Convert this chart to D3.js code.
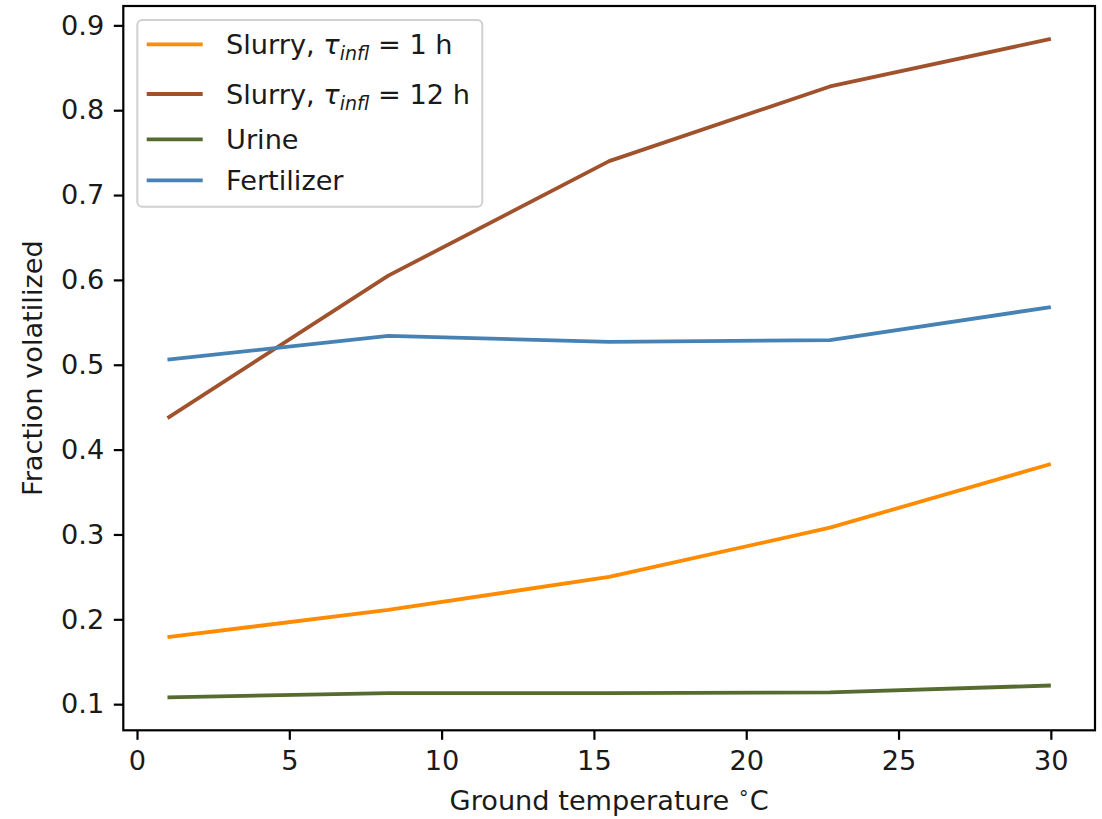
<!DOCTYPE html>
<html><head><meta charset="utf-8">
<script src="https://cdn.jsdelivr.net/npm/d3@7"></script>
<style>
html,body{margin:0;padding:0;background:#fff;}
svg text{font-family:"DejaVu Sans",sans-serif;fill:#1a1a1a;}
</style></head>
<body><svg id="c" width="1102" height="819"></svg>
<script>
const temps = [1, 8.25, 15.5, 22.75, 30];
const slurry1h = [0.179, 0.211, 0.250, 0.308, 0.383];
const slurry12h = [0.437, 0.605, 0.740, 0.828, 0.884];
const urine = [0.108, 0.113, 0.113, 0.114, 0.122];
const fertilizer = [0.506, 0.534, 0.527, 0.529, 0.568];
const xTicks = [0, 5, 10, 15, 20, 25, 30];
const yTicks = [0.1, 0.2, 0.3, 0.4, 0.5, 0.6, 0.7, 0.8, 0.9];
const seriesNames = ["Slurry 1h", "Slurry 12h", "Urine", "Fertilizer"];
const seriesColors = ["#ff8c00", "#a0522d", "#556b2f", "#4682b4"];
const seriesValues = [slurry1h, slurry12h, urine, fertilizer];

const svg = d3.select("#c");
const L = 123.3, R = 1095, T = 6, B = 730.3;
const fs = 27.2;

const xe = d3.extent(temps), xp = (xe[1]-xe[0])*0.05;
const allY = seriesValues.flat();
const ye = d3.extent(allY), yp = (ye[1]-ye[0])*0.05;
const x = d3.scaleLinear().domain([xe[0]-xp, xe[1]+xp]).range([L, R]);
const y = d3.scaleLinear().domain([ye[0]-yp, ye[1]+yp]).range([B, T]);

// lines
const line = d3.line().x((d,i)=>x(temps[i])).y(d=>y(d));
svg.append("g").selectAll("path").data(seriesValues).join("path")
  .attr("d", d=>line(d)).attr("fill","none")
  .attr("stroke",(d,i)=>seriesColors[i]).attr("stroke-width",3.8)
  .attr("stroke-linejoin","round").attr("stroke-linecap","butt");

// axes
const xAxis = d3.axisBottom(x).tickValues(xTicks).tickFormat(d3.format("d")).tickSizeInner(9.5).tickSizeOuter(0).tickPadding(9.5);
const yAxis = d3.axisLeft(y).tickValues(yTicks).tickFormat(d3.format(".1f")).tickSizeInner(9.5).tickSizeOuter(0).tickPadding(9.5);
const gx = svg.append("g").attr("transform",`translate(0,${B})`).call(xAxis);
const gy = svg.append("g").attr("transform",`translate(${L},0)`).call(yAxis);
[gx, gy].forEach(g=>{
  g.select(".domain").remove();
  g.selectAll(".tick line").attr("stroke","#000").attr("stroke-width",2.2);
  g.selectAll(".tick text").style("font-size", fs+"px").style("fill","#1a1a1a").attr("font-family","DejaVu Sans");
});
gx.selectAll(".tick text").attr("dy","0.76em");

// frame
svg.append("rect").attr("x",L).attr("y",T).attr("width",R-L).attr("height",B-T)
  .attr("fill","none").attr("stroke","#000").attr("stroke-width",2.2);

// axis labels
const xl = svg.append("text").attr("x",(L+R)/2).attr("y",810).attr("text-anchor","middle").style("font-size",fs+"px");
xl.append("tspan").text("Ground temperature ");
xl.append("tspan").text("\u2218").attr("dy","-11px").style("font-size",(fs*0.7)+"px");
xl.append("tspan").text("C").attr("dy","11px");
svg.append("text").attr("transform",`translate(42,${(T+B)/2}) rotate(-90)`).attr("text-anchor","middle")
  .style("font-size",fs+"px").text("Fraction volatilized");

// legend
const lg = svg.append("g");
lg.append("rect").attr("x",137.3).attr("y",20).attr("width",345).attr("height",186.7).attr("rx",5)
  .attr("fill","#fff").attr("fill-opacity",0.8).attr("stroke","#d0d0d0").attr("stroke-width",2);
const rowsY = [44.3, 94, 139.3, 180.3];
const labelParts = [["Slurry, ","\u03c4","infl"," = 1 h"],["Slurry, ","\u03c4","infl"," = 12 h"],["Urine"],["Fertilizer"]];
seriesNames.forEach((n,i)=>{
  lg.append("line").attr("x1",146.7).attr("x2",202.7).attr("y1",rowsY[i]).attr("y2",rowsY[i])
    .attr("stroke",seriesColors[i]).attr("stroke-width",3.8);
  const t = lg.append("text").attr("x",226).attr("y",rowsY[i]).attr("dy","0.36em").style("font-size",fs+"px");
  const p = labelParts[i];
  t.append("tspan").text(p[0]);
  if (p.length>1){
    t.append("tspan").text(p[1]).style("font-style","italic");
    t.append("tspan").text(p[2]).attr("dy","6px").style("font-size",(fs*0.7)+"px").style("font-style","italic");
    t.append("tspan").text(p[3]).attr("dy","-6px");
  }
});
</script></body></html>
